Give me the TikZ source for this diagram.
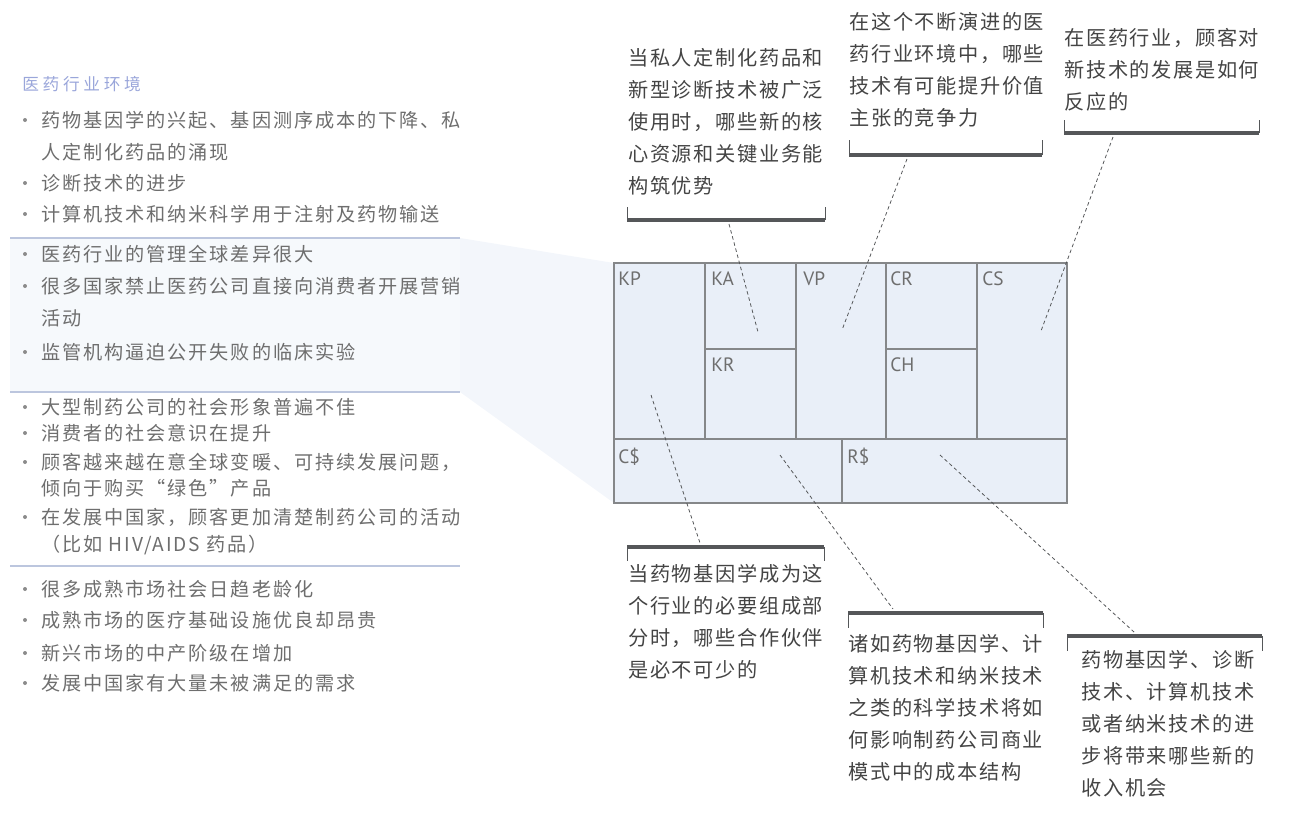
\documentclass[tikz,border=0pt]{standalone}
\usepackage{fontspec}
\usepackage{xcolor}
\usepackage{tikz}
\usetikzlibrary{calc}
\newfontfamily\listfont[LetterSpace=10]{Noto Sans CJK SC}
\newfontfamily\headfont[LetterSpace=22]{Noto Sans CJK SC}
\newfontfamily\notefont[LetterSpace=8]{Noto Sans CJK SC}
\newfontfamily\tagfont{PT Sans}
\definecolor{canvasBlue}{HTML}{E9EFF8}
\definecolor{lineGray}{HTML}{858789}
\definecolor{textGray}{HTML}{6E6E6E}
\definecolor{noteDark}{HTML}{444444}
\definecolor{barDark}{HTML}{555759}
\definecolor{headBlue}{HTML}{9AA6DA}
\definecolor{sepBlue}{HTML}{BCC6DE}

\begin{document}
\begin{tikzpicture}[x=0.02cm, y=-0.02cm,
  blk/.style={draw=lineGray, line width=0.6pt},
  tag/.style={anchor=base west, inner sep=0pt, font=\tagfont\fontsize{11}{12}\selectfont, text=textGray},
  item/.style={anchor=west, inner sep=0pt, font=\listfont\fontsize{10.9}{12}\selectfont, text=textGray},
  dot/.style={circle, fill=textGray!80, inner sep=0pt, minimum size=0.08cm},
  note/.style={anchor=base west, inner sep=0pt, align=left, font=\notefont\fontsize{11.5}{18.1}\selectfont, text=noteDark},
  bar/.style={draw=barDark, line width=2.8pt},
  tick/.style={draw=barDark, line width=0.5pt},
  lead/.style={draw=barDark, line width=0.45pt, dash pattern=on 2pt off 1.6pt}]
\useasboundingbox (0,0) rectangle (1292,816);
% environment list
\fill[canvasBlue!40] (10,238) rectangle (460,392);
\fill[canvasBlue!55] (460,238) -- (614,263) -- (614,503) -- (460,392) -- cycle;
\node[anchor=west, inner sep=0pt, font=\headfont\fontsize{9.5}{12}\selectfont, text=headBlue] (head) at (22,84) {医药行业环境};
\foreach \y/\t [count=\i] in {
  120/药物基因学的兴起、基因测序成本的下降、私,
  183/诊断技术的进步,
  214/计算机技术和纳米科学用于注射及药物输送,
  254/医药行业的管理全球差异很大,
  286/很多国家禁止医药公司直接向消费者开展营销,
  352/监管机构逼迫公开失败的临床实验,
  407/大型制药公司的社会形象普遍不佳,
  433/消费者的社会意识在提升,
  462/顾客越来越在意全球变暖、可持续发展问题，,
  517/在发展中国家，顾客更加清楚制药公司的活动,
  589/很多成熟市场社会日趋老龄化,
  620/成熟市场的医疗基础设施优良却昂贵,
  653/新兴市场的中产阶级在增加,
  683/发展中国家有大量未被满足的需求}
  {\node[dot] (d\i) at (25,\y) {};
   \node[item] (t\i) at (41,\y) {\t};}
\node[item] (t1b) at (41,152) {人定制化药品的涌现};
\node[item] (t5b) at (41,318) {活动};
\node[item] (t9b) at (41,488) {倾向于购买“绿色”产品};
\node[item] (t10b) at (41,545) {（比如 HIV/AIDS 药品）};
\foreach \y in {238,392,566}
  \draw[sepBlue, line width=0.6pt] (10,\y) -- (460,\y);
% canvas
\fill[canvasBlue] (614,263) rectangle (1067,503);
\draw[blk] (614,263) rectangle (1067,503);
\draw[blk] (614,439) -- (1067,439);
\foreach \x in {705,796,886,977}
  \draw[blk] (\x,263) -- (\x,439);
\draw[blk] (705,349) -- (796,349);
\draw[blk] (886,349) -- (977,349);
\draw[blk] (842,439) -- (842,503);
\node[tag] (KP) at (618,285) {KP};
\node[tag] (KA) at (711,285) {KA};
\node[tag] (KR) at (711,371) {KR};
\node[tag] (VP) at (803,285) {VP};
\node[tag] (CR) at (890,285) {CR};
\node[tag] (CH) at (890,371) {CH};
\node[tag] (CS) at (982,285) {CS};
\node[tag] (CC) at (618,463) {C\$};
\node[tag] (RR) at (847,463) {R\$};
\coordinate (pKA) at (758,332);
\coordinate (pVP) at (842,330);
\coordinate (pCS) at (1041,331);
\coordinate (pKP) at (651,395);
\coordinate (pCC) at (780,455);
\coordinate (pRR) at (940,455);
% questions above (base = last line)
\node[note] (q1) at (628,193) {当私人定制化药品和\\新型诊断技术被广泛\\使用时，哪些新的核\\心资源和关键业务能\\构筑优势};
\coordinate (q1a) at (627,220); \coordinate (q1b) at (825,220);
\draw[bar] (q1a) -- (q1b);
\draw[tick] (q1a) -- ++(0,-13) (q1b) -- ++(0,-13);
\node[note] (q2) at (849,125) {在这个不断演进的医\\药行业环境中，哪些\\技术有可能提升价值\\主张的竞争力};
\coordinate (q2a) at (849,155); \coordinate (q2b) at (1042,155);
\draw[bar] (q2a) -- (q2b);
\draw[tick] (q2a) -- ++(0,-15) (q2b) -- ++(0,-15);
\node[note] (q3) at (1064,109) {在医药行业，顾客对\\新技术的发展是如何\\反应的};
\coordinate (q3a) at (1064,133); \coordinate (q3b) at (1259,133);
\draw[bar] (q3a) -- (q3b);
\draw[tick] (q3a) -- ++(0,-13) (q3b) -- ++(0,-13);
% questions below
\coordinate (q4a) at (627,547); \coordinate (q4b) at (824,547);
\draw[bar] (q4a) -- (q4b);
\draw[tick] (q4a) -- ++(0,14) (q4b) -- ++(0,14);
\node[note] (q4) at (628,677) {当药物基因学成为这\\个行业的必要组成部\\分时，哪些合作伙伴\\是必不可少的};
\coordinate (q5a) at (848,613); \coordinate (q5b) at (1043,613);
\draw[bar] (q5a) -- (q5b);
\draw[tick] (q5a) -- ++(0,15) (q5b) -- ++(0,15);
\node[note] (q5) at (848,779) {诸如药物基因学、计\\算机技术和纳米技术\\之类的科学技术将如\\何影响制药公司商业\\模式中的成本结构};
\coordinate (q6a) at (1067,636); \coordinate (q6b) at (1262,636);
\draw[bar] (q6a) -- (q6b);
\draw[tick] (q6a) -- ++(0,15) (q6b) -- ++(0,15);
\node[note] (q6) at (1081,795) {药物基因学、诊断\\技术、计算机技术\\或者纳米技术的进\\步将带来哪些新的\\收入机会};
% leaders
\coordinate (e1) at (729,224);
\coordinate (e2) at (907,159);
\coordinate (e3) at (1113,137);
\coordinate (e4) at (700,543);
\coordinate (e5) at (893,609);
\coordinate (e6) at (1134,632);
\draw[lead] (e1) -- (pKA);
\draw[lead] (e2) -- (pVP);
\draw[lead] (e3) -- (pCS);
\draw[lead] (pKP) -- (e4);
\draw[lead] (pCC) -- (e5);
\draw[lead] (pRR) -- (e6);
\end{tikzpicture}
\end{document}
